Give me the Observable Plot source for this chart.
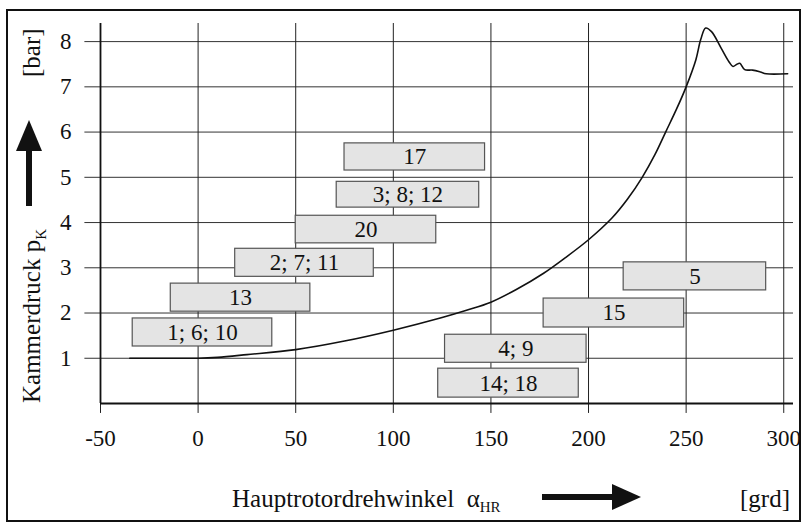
<!DOCTYPE html>
<html>
<head>
<meta charset="utf-8">
<script src="https://cdn.jsdelivr.net/npm/d3@7"></script>
<script src="https://cdn.jsdelivr.net/npm/@observablehq/plot@0.6"></script>
<style>
  html, body { margin: 0; padding: 0; background: #fff; }
</style>
</head>
<body>
<div id="chart"></div>
<script>
// ---- data ----
const xTicks = [-50, 0, 50, 100, 150, 200, 250, 300];
const yTicks = [1, 2, 3, 4, 5, 6, 7, 8];

const curveX = [-35, -10, 0, 10, 25, 50, 75, 100, 125, 137.5, 150, 163, 177, 188, 200, 212, 220, 227.5, 234, 239.5, 245, 250, 255, 257.5, 260, 263, 268, 272, 274, 276, 277.5, 280, 284, 288, 291, 302];
const curveY = [1.0, 1.0, 1.0, 1.02, 1.08, 1.19, 1.38, 1.62, 1.9, 2.06, 2.24, 2.52, 2.88, 3.22, 3.62, 4.1, 4.52, 5.0, 5.5, 6.0, 6.5, 7.0, 7.6, 8.05, 8.3, 8.22, 7.85, 7.55, 7.45, 7.5, 7.52, 7.38, 7.37, 7.33, 7.29, 7.29];

const boxLabels = ["17", "3; 8; 12", "20", "2; 7; 11", "13", "1; 6; 10", "5", "15", "4; 9", "14; 18"];
const boxStart  = [75, 71, 50, 19, -14, -33.5, 218, 177, 126.5, 123];
const boxEnd    = [147, 144, 122, 90, 57.5, 38, 291, 249, 199, 195];
const boxLow    = [5.15, 4.33, 3.54, 2.8, 2.03, 1.26, 2.5, 1.68, 0.9, 0.13];
const boxHigh   = [5.75, 4.9, 4.15, 3.42, 2.65, 1.88, 3.12, 2.32, 1.52, 0.77];

// ---- derived tables ----
const curve = curveX.map((x, i) => ({x, y: curveY[i]}));
const boxes = boxLabels.map((label, i) => ({
  label, x1: boxStart[i], x2: boxEnd[i], y1: boxLow[i], y2: boxHigh[i],
  xm: (boxStart[i] + boxEnd[i]) / 2, ym: (boxLow[i] + boxHigh[i]) / 2
}));

const FONT = "Liberation Serif";

const plot = Plot.plot({
  width: 805,
  height: 523,
  marginLeft: 100,
  marginRight: 12,
  marginTop: 23,
  marginBottom: 120,
  style: {fontSize: "23px", background: "#fff", color: "#111"},
  x: {type: "linear", domain: [-50, 305]},
  y: {type: "linear", domain: [0, 8.4]},
  marks: [
    Plot.ruleY(yTicks, {x1: -58, x2: 305, stroke: "#333", strokeWidth: 1}),
    Plot.ruleX(xTicks, {y1: -0.22, y2: 8.4, stroke: "#222", strokeWidth: 1}),
    Plot.ruleY([0], {x1: -50, x2: 305, stroke: "#111", strokeWidth: 1.8}),
    Plot.ruleX([-50], {y1: 0, y2: 8.4, stroke: "#111", strokeWidth: 1.8}),
    Plot.rect(boxes, {x1: "x1", x2: "x2", y1: "y1", y2: "y2", fill: "#e4e4e4", stroke: "#555", strokeWidth: 1.2}),
    Plot.text(boxes, {x: "xm", y: "ym", text: "label", fontSize: 23, fontFamily: FONT, fill: "#111"}),
    Plot.line(curve, {x: "x", y: "y", curve: "catmull-rom", stroke: "#111", strokeWidth: 1.6}),
    Plot.axisX(xTicks, {tickSize: 0, tickPadding: 26, fontSize: 23, fontFamily: FONT, fill: "#111", tickFormat: d => String(d)}),
    Plot.axisY(yTicks, {tickSize: 0, tickPadding: 29, fontSize: 23, fontFamily: FONT, fill: "#111", tickFormat: d => String(d)})
  ]
});

document.getElementById("chart").appendChild(plot);

// ---- decorations: axis titles, arrows, frame ----
const svg = d3.select(plot);
svg.attr("font-family", FONT);
const g = svg.append("g").attr("font-family", FONT).attr("fill", "#111").attr("text-anchor", "start");

// outer frame
g.append("rect").attr("x", 7).attr("y", 10).attr("width", 793).attr("height", 511)
  .attr("fill", "none").attr("stroke", "#111").attr("stroke-width", 2);

// y-axis title (rotated)
const yt = g.append("text").attr("transform", "translate(40,403) rotate(-90)")
  .attr("font-size", 25);
yt.append("tspan").text("Kammerdruck p");
yt.append("tspan").attr("font-size", 15).attr("dy", 6).text("K");

g.append("text").attr("transform", "translate(40,77) rotate(-90)")
  .attr("font-size", 25).text("[bar]");

// y arrow
g.append("rect").attr("x", 26).attr("y", 148).attr("width", 6).attr("height", 58).attr("fill", "#111");
g.append("path").attr("d", "M29,120 L42,151 L16,151 Z").attr("fill", "#111");

// x-axis title
const xt = g.append("text").attr("x", 232).attr("y", 507).attr("font-size", 25);
xt.append("tspan").text("Hauptrotordrehwinkel  α");
xt.append("tspan").attr("font-size", 15).attr("dy", 5).text("HR");

g.append("text").attr("x", 740).attr("y", 507).attr("font-size", 25).text("[grd]");

// x arrow
g.append("rect").attr("x", 542).attr("y", 494).attr("width", 72).attr("height", 6).attr("fill", "#111");
g.append("path").attr("d", "M612,484 L641,497 L612,510 Z").attr("fill", "#111");
</script>
</body>
</html>
